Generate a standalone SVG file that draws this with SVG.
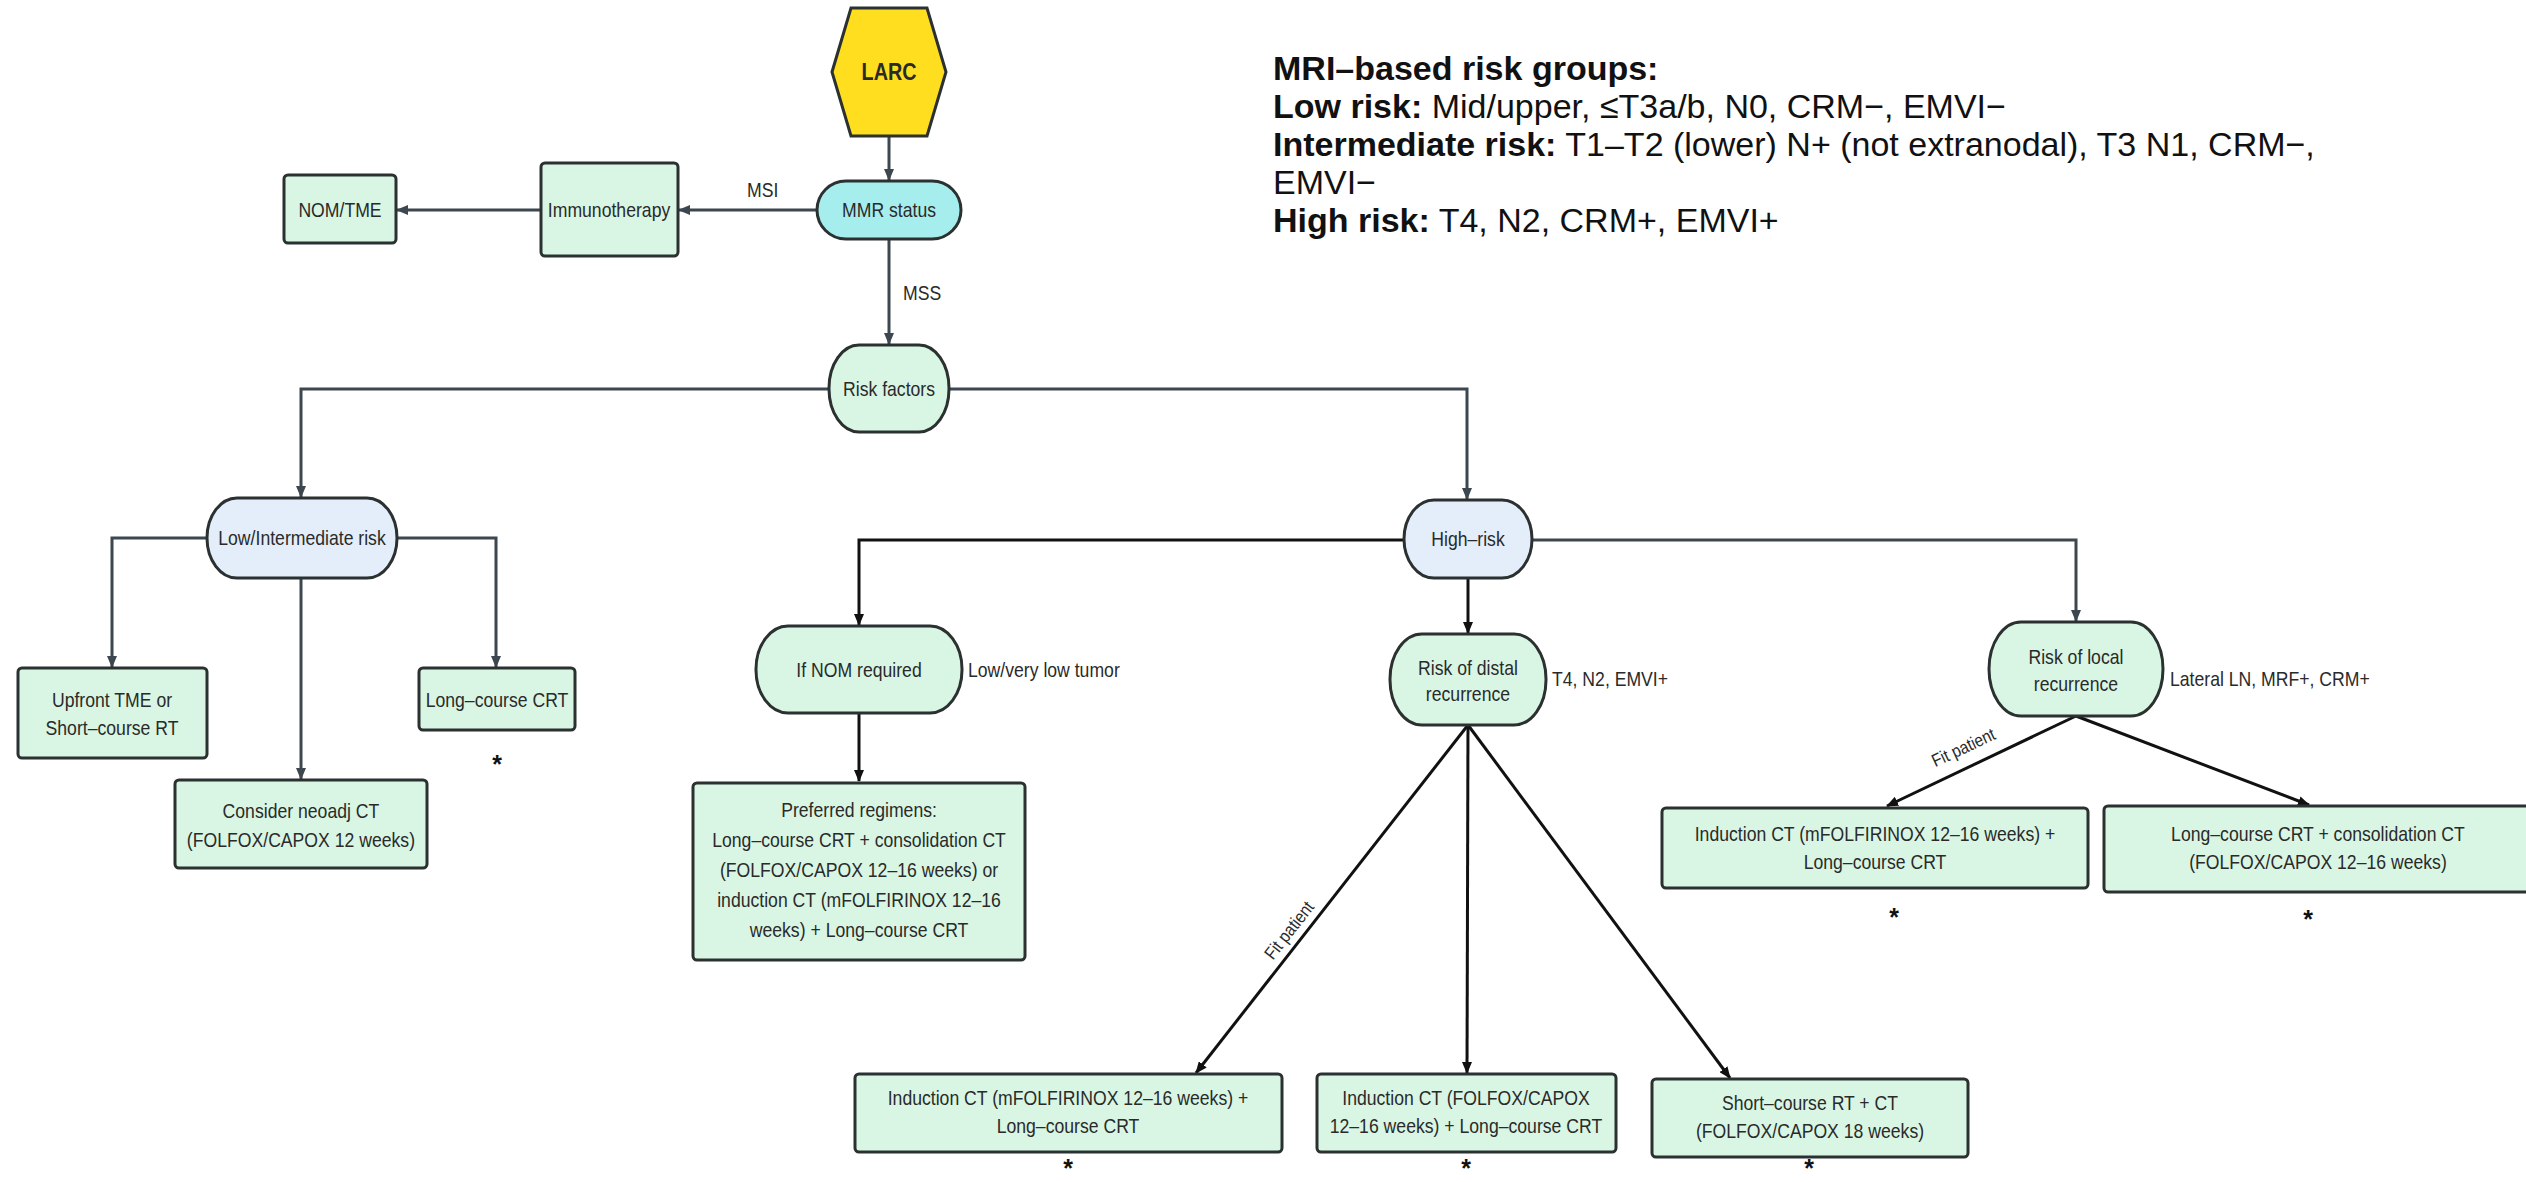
<svg xmlns="http://www.w3.org/2000/svg" width="2526" height="1182" viewBox="0 0 2526 1182">
<style>
.n{stroke:#2b3030;stroke-width:3}
.g{fill:#d9f6e4}
.b{fill:#e3eefa}
.cy{fill:#a6eeee}
.y{fill:#ffde1f}
.t{font-family:'Liberation Sans',Arial,sans-serif;font-size:20.5px;fill:#2a2a2a;text-anchor:middle}
.l{font-family:'Liberation Sans',Arial,sans-serif;font-size:20.5px;fill:#2a2a2a}
.s{font-family:'Liberation Sans',Arial,sans-serif;font-size:25px;font-weight:bold;fill:#111;text-anchor:middle}
.m{font-family:'Liberation Sans',Arial,sans-serif;font-size:34px;fill:#111}
.m tspan.bd{font-weight:bold}
.c{stroke:#3c4750;stroke-width:3;fill:none}
.k{stroke:#111;stroke-width:3;fill:none}
</style>
<defs>
<marker id="ag" viewBox="0 0 12 10" refX="11" refY="5" markerWidth="12" markerHeight="10" markerUnits="userSpaceOnUse" orient="auto"><path d="M0,0 L12,5 L0,10 z" fill="#3c4750"/></marker>
<marker id="ak" viewBox="0 0 12 10" refX="11" refY="5" markerWidth="12" markerHeight="10" markerUnits="userSpaceOnUse" orient="auto"><path d="M0,0 L12,5 L0,10 z" fill="#111"/></marker>
</defs>
<rect width="2526" height="1182" fill="#ffffff"/>

<g id="connectors">
<path class="c" d="M889,136 V180" marker-end="url(#ag)"/>
<path class="c" d="M817,210 H679" marker-end="url(#ag)"/>
<path class="c" d="M541,210 H397" marker-end="url(#ag)"/>
<path class="c" d="M889,239 V344" marker-end="url(#ag)"/>
<path class="c" d="M829,389 H301 V497" marker-end="url(#ag)"/>
<path class="c" d="M949,389 H1467 V499" marker-end="url(#ag)"/>
<path class="c" d="M207,538 H112 V667" marker-end="url(#ag)"/>
<path class="c" d="M397,538 H496 V667" marker-end="url(#ag)"/>
<path class="c" d="M301,578 V779" marker-end="url(#ag)"/>
<path class="k" d="M1404,540 H859 V625" marker-end="url(#ak)"/>
<path class="c" d="M1532,540 H2076 V621" marker-end="url(#ag)"/>
<path class="k" d="M1468,578 V633" marker-end="url(#ak)"/>
<path class="k" d="M859,713 V781" marker-end="url(#ak)"/>
<path class="k" d="M1468,725 L1196,1073" marker-end="url(#ak)"/>
<path class="k" d="M1468,725 L1467,1073" marker-end="url(#ak)"/>
<path class="k" d="M1468,725 L1730,1078" marker-end="url(#ak)"/>
<path class="k" d="M2076,716 L1887,806" marker-end="url(#ak)"/>
<path class="k" d="M2076,716 L2309,805" marker-end="url(#ak)"/>
<g transform="matrix(0.86,0,0,1,104.6,0)"><text class="l" x="747" y="197">MSI</text></g>
<g transform="matrix(0.86,0,0,1,126.4,0)"><text class="l" x="903" y="300">MSS</text></g>
<text class="t" style="font-size:18px" transform="translate(1294,934) rotate(-52) scale(0.86,1)">Fit patient</text>
<text class="t" style="font-size:18px" transform="translate(1966,753) rotate(-25) scale(0.86,1)">Fit patient</text>
<g transform="matrix(0.86,0,0,1,135.5,0)"><text class="l" x="968" y="677">Low/very low tumor</text></g>
<g transform="matrix(0.86,0,0,1,217.3,0)"><text class="l" x="1552" y="686">T4, N2, EMVI+</text></g>
<g transform="matrix(0.86,0,0,1,303.8,0)"><text class="l" x="2170" y="686">Lateral LN, MRF+, CRM+</text></g>
</g>

<g id="larc">
<polygon class="n y" points="832,72 851,8 927,8 946,72 927,136 851,136"/>
<g transform="matrix(0.86,0,0,1,124.5,0)"><text class="t" x="889" y="80" style="font-weight:bold;font-size:23px">LARC</text></g>
</g>
<g id="mmr">
<rect class="n cy" x="817" y="181" width="144" height="58" rx="29" ry="29"/>
<g transform="matrix(0.86,0,0,1,124.5,0)"><text class="t" x="889" y="217">MMR status</text></g>
</g>
<g id="immuno">
<rect class="n g" x="541" y="163" width="137" height="93" rx="4"/>
<g transform="matrix(0.86,0,0,1,85.3,0)"><text class="t" x="609" y="217">Immunotherapy</text></g>
</g>
<g id="nomtme">
<rect class="n g" x="284" y="175" width="112" height="68" rx="4"/>
<g transform="matrix(0.86,0,0,1,47.6,0)"><text class="t" x="340" y="217">NOM/TME</text></g>
</g>
<g id="riskfactors">
<rect class="n g" x="829" y="345" width="120" height="87" rx="30" ry="43"/>
<g transform="matrix(0.86,0,0,1,124.5,0)"><text class="t" x="889" y="396">Risk factors</text></g>
</g>
<g id="lowint">
<rect class="n b" x="207" y="498" width="190" height="80" rx="30" ry="40"/>
<g transform="matrix(0.86,0,0,1,42.3,0)"><text class="t" x="302" y="545">Low/Intermediate risk</text></g>
</g>
<g id="highrisk">
<rect class="n b" x="1404" y="500" width="128" height="78" rx="30" ry="39"/>
<g transform="matrix(0.86,0,0,1,205.5,0)"><text class="t" x="1468" y="546">High–risk</text></g>
</g>
<g id="upfront">
<rect class="n g" x="18" y="668" width="189" height="90" rx="4"/>
<g transform="matrix(0.86,0,0,1,15.7,0)">
<text class="t" x="112" y="707">Upfront TME or</text>
<text class="t" x="112" y="735">Short–course RT</text>
</g>
</g>
<g id="longcrt">
<rect class="n g" x="419" y="668" width="156" height="62" rx="4"/>
<g transform="matrix(0.86,0,0,1,69.6,0)"><text class="t" x="497" y="707">Long–course CRT</text></g>
<text class="s" x="497" y="773">*</text>
</g>
<g id="consider">
<rect class="n g" x="175" y="780" width="252" height="88" rx="4"/>
<g transform="matrix(0.86,0,0,1,42.1,0)">
<text class="t" x="301" y="818">Consider neoadj CT</text>
<text class="t" x="301" y="847">(FOLFOX/CAPOX 12 weeks)</text>
</g>
</g>
<g id="ifnom">
<rect class="n g" x="756" y="626" width="206" height="87" rx="32" ry="43"/>
<g transform="matrix(0.86,0,0,1,120.3,0)"><text class="t" x="859" y="677">If NOM required</text></g>
</g>
<g id="preferred">
<rect class="n g" x="693" y="783" width="332" height="177" rx="4"/>
<g transform="matrix(0.86,0,0,1,120.3,0)">
<text class="t" x="859" y="817">Preferred regimens:</text>
<text class="t" x="859" y="847">Long–course CRT + consolidation CT</text>
<text class="t" x="859" y="877">(FOLFOX/CAPOX 12–16 weeks) or</text>
<text class="t" x="859" y="907">induction CT (mFOLFIRINOX 12–16</text>
<text class="t" x="859" y="937">weeks) + Long–course CRT</text>
</g>
</g>
<g id="distal">
<rect class="n g" x="1390" y="634" width="156" height="91" rx="32" ry="45"/>
<g transform="matrix(0.86,0,0,1,205.5,0)">
<text class="t" x="1468" y="675">Risk of distal</text>
<text class="t" x="1468" y="701">recurrence</text>
</g>
</g>
<g id="local">
<rect class="n g" x="1989" y="622" width="174" height="94" rx="32" ry="47"/>
<g transform="matrix(0.86,0,0,1,290.6,0)">
<text class="t" x="2076" y="664">Risk of local</text>
<text class="t" x="2076" y="691">recurrence</text>
</g>
</g>
<g id="localinduction">
<rect class="n g" x="1662" y="808" width="426" height="80" rx="4"/>
<g transform="matrix(0.86,0,0,1,262.5,0)">
<text class="t" x="1875" y="841">Induction CT (mFOLFIRINOX 12–16 weeks) +</text>
<text class="t" x="1875" y="869">Long–course CRT</text>
</g>
<text class="s" x="1894" y="926">*</text>
</g>
<g id="localconsol">
<rect class="n g" x="2104" y="806" width="440" height="86" rx="4"/>
<g transform="matrix(0.86,0,0,1,324.5,0)">
<text class="t" x="2318" y="841">Long–course CRT + consolidation CT</text>
<text class="t" x="2318" y="869">(FOLFOX/CAPOX 12–16 weeks)</text>
</g>
<text class="s" x="2308" y="928">*</text>
</g>
<g id="distalinduction">
<rect class="n g" x="855" y="1074" width="427" height="78" rx="4"/>
<g transform="matrix(0.86,0,0,1,149.5,0)">
<text class="t" x="1068" y="1105">Induction CT (mFOLFIRINOX 12–16 weeks) +</text>
<text class="t" x="1068" y="1133">Long–course CRT</text>
</g>
<text class="s" x="1068" y="1177">*</text>
</g>
<g id="distalfolfox">
<rect class="n g" x="1317" y="1074" width="299" height="78" rx="4"/>
<g transform="matrix(0.86,0,0,1,205.2,0)">
<text class="t" x="1466" y="1105">Induction CT (FOLFOX/CAPOX</text>
<text class="t" x="1466" y="1133">12–16 weeks) + Long–course CRT</text>
</g>
<text class="s" x="1466" y="1177">*</text>
</g>
<g id="shortcourse">
<rect class="n g" x="1652" y="1079" width="316" height="78" rx="4"/>
<g transform="matrix(0.86,0,0,1,253.4,0)">
<text class="t" x="1810" y="1110">Short–course RT + CT</text>
<text class="t" x="1810" y="1138">(FOLFOX/CAPOX 18 weeks)</text>
</g>
<text class="s" x="1809" y="1177">*</text>
</g>

<g id="legend">
<text class="m" x="1273" y="80"><tspan class="bd">MRI–based risk groups:</tspan></text>
<text class="m" x="1273" y="118"><tspan class="bd">Low risk:</tspan> Mid/upper, ≤T3a/b, N0, CRM−, EMVI−</text>
<text class="m" x="1273" y="156"><tspan class="bd">Intermediate risk:</tspan> T1–T2 (lower) N+ (not extranodal), T3 N1, CRM−,</text>
<text class="m" x="1273" y="194">EMVI−</text>
<text class="m" x="1273" y="232"><tspan class="bd">High risk:</tspan> T4, N2, CRM+, EMVI+</text>
</g>
</svg>
